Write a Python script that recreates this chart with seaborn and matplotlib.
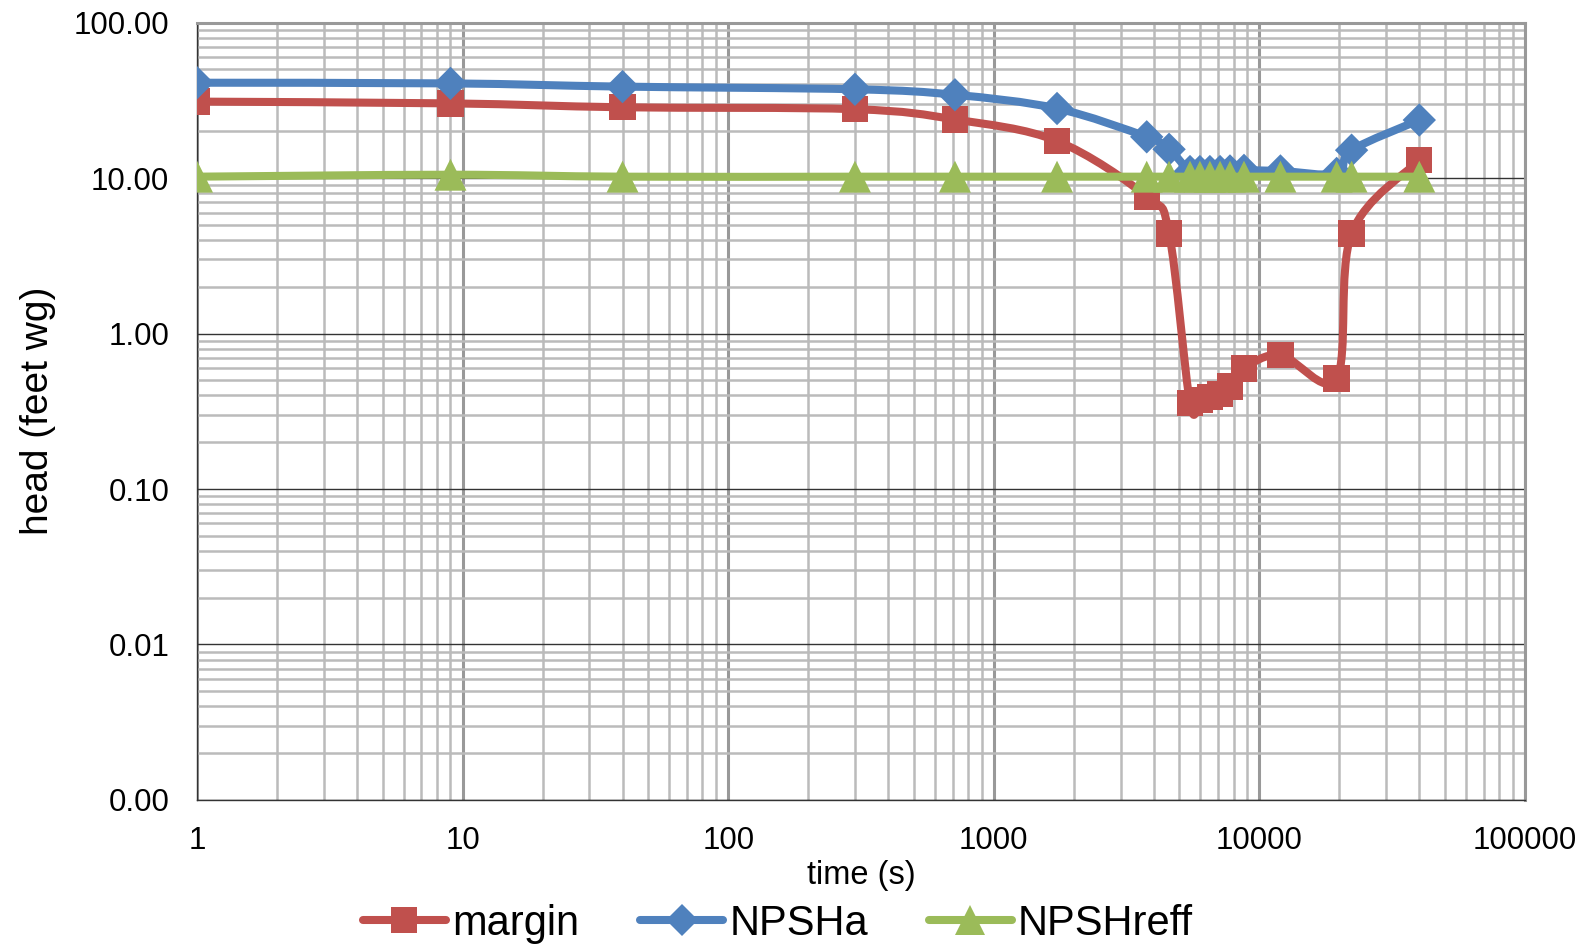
import matplotlib
matplotlib.use("Agg")
import matplotlib.pyplot as plt
from matplotlib.path import Path
from matplotlib.patches import PathPatch
from matplotlib.lines import Line2D
from matplotlib.ticker import FuncFormatter, LogLocator
import numpy as np
import pandas as pd
import seaborn as sns

sns.set_theme(style="white")
plt.rcParams['font.family'] = ['Liberation Sans', 'DejaVu Sans']
plt.rcParams['text.color'] = 'black'
plt.rcParams['axes.labelcolor'] = 'black'

# values
time_s = [1, 9, 40, 300, 714, 1730, 3765, 4570, 5480, 5970, 6510, 7110,
          7750, 8750, 12000, 19540, 22240, 40000]
margin = [31.0, 30.2, 28.5, 27.7, 23.8, 17.3, 7.6, 4.4, 0.356, 0.375, 0.39,
          0.41, 0.455, 0.597, 0.728, 0.515, 4.4, 13.0]
npsha = [41.0, 40.6, 38.7, 37.2, 34.3, 28.0, 18.4, 15.3, 11.0, 11.0, 11.0,
         11.0, 11.1, 11.2, 11.1, 10.7, 15.1, 23.6]
npshreff = [10.2, 10.5, 10.2, 10.2, 10.2, 10.2, 10.2, 10.2, 10.2, 10.2, 10.2,
            10.2, 10.2, 10.2, 10.2, 10.2, 10.2, 10.2]

series = ['margin', 'NPSHa', 'NPSHreff']
colors = {'margin': '#C0504D', 'NPSHa': '#4F81BD', 'NPSHreff': '#9BBB59'}
markers = {'margin': 's', 'NPSHa': 'D', 'NPSHreff': '^'}
msizes = {'margin': 19, 'NPSHa': 17, 'NPSHreff': 23}

df = pd.DataFrame({'time': time_s, 'margin': margin, 'NPSHa': npsha,
                   'NPSHreff': npshreff})
long_df = df.melt(id_vars='time', var_name='series', value_name='head')


def smooth_path(xs, ys):
    """Excel-like smoothed line: cubic Bezier segments built in log space."""
    lx = np.log10(np.asarray(xs, dtype=float))
    ly = np.log10(np.asarray(ys, dtype=float))
    pts = np.column_stack([lx, ly])
    n = len(pts)
    verts = [pts[0]]
    codes = [Path.MOVETO]
    for i in range(n - 1):
        p0 = pts[max(i - 1, 0)]
        p1 = pts[i]
        p2 = pts[i + 1]
        p3 = pts[min(i + 2, n - 1)]
        c1 = p1 + (p2 - p0) / 6.0
        c2 = p2 - (p3 - p1) / 6.0
        verts += [c1, c2, p2]
        codes += [Path.CURVE4] * 3
    verts = 10 ** np.array(verts)
    return Path(verts, codes)


fig, ax = plt.subplots(figsize=(15.93, 9.5), dpi=100)
fig.subplots_adjust(left=0.1237, right=0.9573, top=0.9763, bottom=0.1579)

ax.set_xscale('log')
ax.set_yscale('log')
ax.set_xlim(1, 100000)
ax.set_ylim(0.001, 100)

for k, name in enumerate(series):
    sub = long_df[long_df['series'] == name]
    patch = PathPatch(smooth_path(sub['time'], sub['head']), facecolor='none',
                      edgecolor=colors[name], lw=5.8, capstyle='round',
                      joinstyle='round', zorder=3 + k)
    ax.add_patch(patch)
    sns.scatterplot(data=sub, x='time', y='head', marker=markers[name],
                    s=msizes[name] ** 2, color=colors[name], edgecolor='none',
                    linewidth=0, ax=ax, zorder=3.5 + k, legend=False)

# grid
ax.xaxis.set_major_locator(LogLocator(base=10, numticks=10))
ax.xaxis.set_minor_locator(LogLocator(base=10, subs=np.arange(2, 10), numticks=20))
ax.yaxis.set_major_locator(LogLocator(base=10, numticks=10))
ax.yaxis.set_minor_locator(LogLocator(base=10, subs=np.arange(2, 10), numticks=20))
ax.grid(True, which='minor', axis='both', color='#BBBBBB', lw=1.8, zorder=0)
ax.grid(True, which='major', axis='x', color='#999999', lw=2.2, zorder=0)
ax.grid(True, which='major', axis='y', color='#333333', lw=1.0, zorder=1)
ax.set_axisbelow(True)

ax.xaxis.set_major_formatter(FuncFormatter(lambda v, p: "%d" % round(v)))
ax.yaxis.set_major_formatter(FuncFormatter(lambda v, p: "%.2f" % v))
ax.tick_params(axis='both', which='major', direction='out', length=7,
               width=1, color='#333333', labelsize=22.5, labelcolor='black')
ax.tick_params(axis='x', which='major', pad=12)
ax.tick_params(axis='y', which='major', pad=13)
ax.tick_params(axis='both', which='minor', length=0)

for side in ['left', 'bottom']:
    ax.spines[side].set_color('#333333')
    ax.spines[side].set_linewidth(1.0)
for side in ['right', 'top']:
    ax.spines[side].set_color('#999999')
    ax.spines[side].set_linewidth(2.2)

ax.set_xlabel('time (s)', fontsize=23.5)
ax.xaxis.set_label_coords(0.5, -0.077)
ax.set_ylabel('head (feet wg)', fontsize=28)
ax.yaxis.set_label_coords(-0.106, 0.5)

handles = [Line2D([], [], color=colors[n], lw=5.8, marker=markers[n],
                  markersize=msizes[n] * 0.95, markeredgewidth=0)
           for n in series]
fig.legend(handles, series, loc='center', bbox_to_anchor=(778 / 1593, 1 - 924 / 950),
           ncol=3, frameon=False, fontsize=30, handlelength=2.0,
           handletextpad=0.15, columnspacing=1.45)

plt.savefig('out.png', dpi=100)
